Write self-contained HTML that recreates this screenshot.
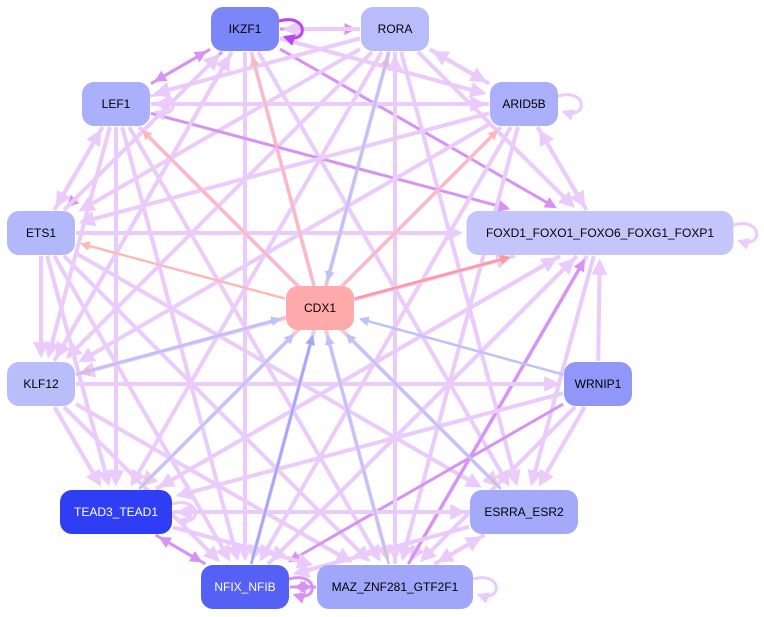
<!DOCTYPE html>
<html><head><meta charset="utf-8"><style>
html,body{margin:0;padding:0;background:#fff;width:764px;height:617px;overflow:hidden}
svg{display:block}
text{font-family:"Liberation Sans",sans-serif;font-size:12px}
</style></head><body>
<svg id="g" width="764" height="617" xmlns="http://www.w3.org/2000/svg">
<defs>
<marker id="mL" markerWidth="4" markerHeight="4" refX="3.2" refY="2" orient="auto" markerUnits="strokeWidth"><path d="M0,0L4,2L0,4z" fill="#ebcafc"/></marker>
<marker id="mP" markerWidth="4" markerHeight="4" refX="3.2" refY="2" orient="auto" markerUnits="strokeWidth"><path d="M0,0L4,2L0,4z" fill="#d792f6"/></marker>
<marker id="mD" markerWidth="4" markerHeight="4" refX="3.2" refY="2" orient="auto" markerUnits="strokeWidth"><path d="M0,0L4,2L0,4z" fill="#bb44f5"/></marker>
<marker id="mR" markerWidth="4" markerHeight="4" refX="3.2" refY="2" orient="auto" markerUnits="strokeWidth"><path d="M0,0L4,2L0,4z" fill="#ffb8b8"/></marker>
<marker id="mR2" markerWidth="4" markerHeight="4" refX="3.2" refY="2" orient="auto" markerUnits="strokeWidth"><path d="M0,0L4,2L0,4z" fill="#ff9a9a"/></marker>
<marker id="mB" markerWidth="4" markerHeight="4" refX="3.2" refY="2" orient="auto" markerUnits="strokeWidth"><path d="M0,0L4,2L0,4z" fill="#bcc3fa"/></marker>
<marker id="mB2" markerWidth="4" markerHeight="4" refX="3.2" refY="2" orient="auto" markerUnits="strokeWidth"><path d="M0,0L4,2L0,4z" fill="#a0a8f8"/></marker>
<marker id="mO" markerWidth="4" markerHeight="4" refX="3.2" refY="2" orient="auto" markerUnits="strokeWidth"><path d="M0,0L4,2L0,4z" fill="#ffc8b8"/></marker>
</defs>
<g id="edges"></g>
<g id="nodes"></g>
</svg>
<script>
var N={
IKZF1:[245,29,68,'#7b86f8','#000'],RORA:[395,29,68,'#b8bcfb','#000'],
LEF1:[116,104,68,'#aab0fb','#000'],ARID5B:[524,104,68,'#aab0fb','#000'],
ETS1:[41,233,68,'#b3b8fb','#000'],FOX:[600,233,267,'#c4c6fb','#000','FOXD1_FOXO1_FOXO6_FOXG1_FOXP1'],
CDX1:[320,308,68,'#ffaaaa','#000'],KLF12:[41,384,68,'#b9bdfa','#000'],
WRNIP1:[598,384,68,'#9097f8','#000'],TEAD:[116,512,112,'#2f3df4','#fff','TEAD3_TEAD1'],
ESRRA:[524,512,108,'#a4a9fa','#000','ESRRA_ESR2'],NFIX:[245,587,88,'#5560f5','#fff','NFIX_NFIB'],
MAZ:[395,587,156,'#a0a6fa','#000','MAZ_ZNF281_GTF2F1']};
var C={L:'#ebcafc',P:'#d792f6',D:'#bb44f5',R:'#ffb8b8',R2:'#ff9a9a',B:'#bcc3fa',B2:'#a0a8f8',O:'#ffc8b8'};
function clip(n,dx,dy){var w=N[n][2]/2+1,h=23;var t=Math.min(dx?w/Math.abs(dx):1e9,dy?h/Math.abs(dy):1e9);return t;}
var E=[
['IKZF1','RORA','P'],['IKZF1','LEF1','P'],['LEF1','IKZF1','P'],['IKZF1','ARID5B','L'],['IKZF1','FOX','P'],['IKZF1','ESRRA','L'],['IKZF1','MAZ','L'],['IKZF1','NFIX','L'],['IKZF1','ETS1','P'],['IKZF1','KLF12','L'],
['RORA','IKZF1','L'],['RORA','ARID5B','L'],['ARID5B','RORA','L'],['RORA','ETS1','L'],['RORA','LEF1','L'],['RORA','FOX','L'],['RORA','MAZ','L'],['RORA','ESRRA','L'],['RORA','TEAD','L'],['RORA','NFIX','L'],['RORA','KLF12','L'],
['LEF1','ARID5B','L'],['LEF1','FOX','P'],['LEF1','ETS1','L'],['LEF1','KLF12','L'],['LEF1','TEAD','L'],['LEF1','NFIX','L'],['LEF1','MAZ','L'],['LEF1','ESRRA','L'],
['ARID5B','FOX','L'],['FOX','ARID5B','L'],['ARID5B','ETS1','L'],['ARID5B','KLF12','L'],['ARID5B','TEAD','L'],['ARID5B','MAZ','L'],['ARID5B','NFIX','L'],['ARID5B','LEF1','L'],
['ETS1','FOX','L'],['ETS1','KLF12','L'],['ETS1','TEAD','L'],['ETS1','NFIX','L'],['ETS1','MAZ','L'],['ETS1','ESRRA','L'],['ETS1','IKZF1','L'],['ETS1','LEF1','L'],
['FOX','KLF12','L'],['FOX','TEAD','L'],['FOX','NFIX','L'],['FOX','MAZ','L'],['FOX','ESRRA','L'],['MAZ','FOX','P'],['TEAD','FOX','L'],
['KLF12','FOX','L'],['KLF12','WRNIP1','L'],['KLF12','TEAD','L'],['KLF12','MAZ','L'],['KLF12','NFIX','L'],['KLF12','IKZF1','L'],
['WRNIP1','FOX','L'],['WRNIP1','TEAD','L'],['WRNIP1','NFIX','P'],['WRNIP1','ESRRA','L'],['WRNIP1','MAZ','L'],
['TEAD','ESRRA','L'],['TEAD','MAZ','L'],['TEAD','NFIX','P'],['NFIX','TEAD','P'],['ESRRA','TEAD','L'],['ESRRA','MAZ','L'],['MAZ','ESRRA','L'],['NFIX','FOX','L'],['MAZ','NFIX','P'],['NFIX','MAZ','P'],['ESRRA','NFIX','L'],['MAZ','RORA','L'],
['CDX1','IKZF1','R'],['CDX1','LEF1','R'],['CDX1','ETS1','R'],['CDX1','FOX','R2'],['CDX1','ARID5B','R'],['CDX1','KLF12','R'],['CDX1','TEAD','O'],['CDX1','ESRRA','O'],['CDX1','MAZ','O'],['CDX1','RORA','R'],
['RORA','CDX1','B'],['WRNIP1','CDX1','B'],['NFIX','CDX1','B2'],['ESRRA','CDX1','B'],['MAZ','CDX1','B'],['TEAD','CDX1','B'],['KLF12','CDX1','B']];
var s='';
E.forEach(function(e){var a=N[e[0]],b=N[e[1]];var dx=b[0]-a[0],dy=b[1]-a[1];
var t1=clip(e[0],dx,dy),t2=clip(e[1],dx,dy);var L=Math.hypot(dx,dy);
var x1=a[0]+dx*t1,y1=a[1]+dy*t1,x2=b[0]-dx*(t2+6/L),y2=b[1]-dy*(t2+6/L);
var w=e[2]=='L'?4:(e[2]=='P'?3:2.5);
s+='<line x1="'+x1+'" y1="'+y1+'" x2="'+x2+'" y2="'+y2+'" stroke="'+C[e[2]]+'" stroke-width="'+w+'" marker-end="url(#m'+e[2]+')"/>';});
function loop(n,c,m){var a=N[n];var x=a[0]+a[2]/2,y=a[1];s+='<path d="M'+x+','+(y-8)+' C'+(x+30)+','+(y-16)+' '+(x+30)+','+(y+16)+' '+(x+6)+','+(y+8)+'" fill="none" stroke="'+c+'" stroke-width="3" marker-end="url(#'+m+')"/>';}
loop('IKZF1',C.D,'mD');loop('LEF1',C.L,'mL');loop('ARID5B',C.L,'mL');loop('FOX',C.L,'mL');loop('TEAD',C.L,'mL');loop('MAZ',C.L,'mL');loop('NFIX',C.P,'mP');
document.getElementById('edges').innerHTML=s;
var t='';for(var k in N){var a=N[k];t+='<rect x="'+(a[0]-a[2]/2)+'" y="'+(a[1]-22)+'" width="'+a[2]+'" height="44" rx="12" fill="'+a[3]+'"/><text x="'+a[0]+'" y="'+(a[1]+4)+'" text-anchor="middle" fill="'+a[4]+'">'+(a[5]||k)+'</text>';}
document.getElementById('nodes').innerHTML=t;
</script>
</body></html>
